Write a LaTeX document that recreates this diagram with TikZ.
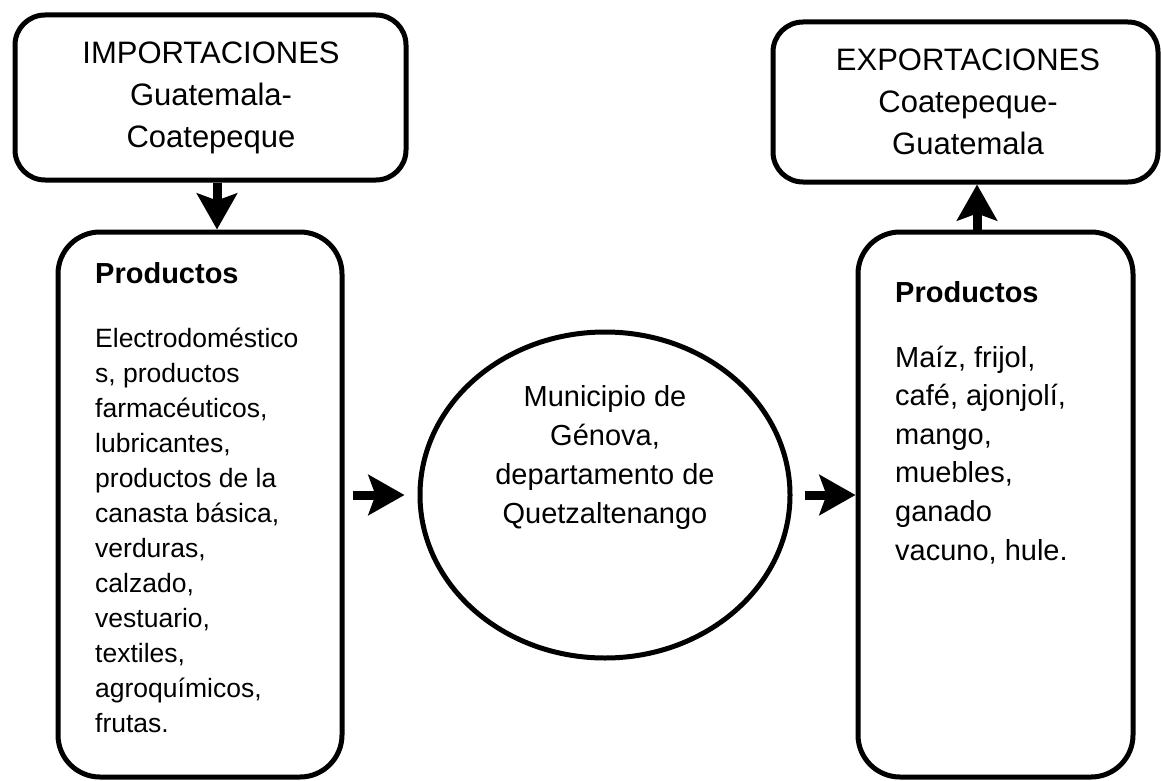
\documentclass[tikz,border=0pt]{standalone}
\usepackage{fontspec}
\setmainfont{Liberation Sans}
\usetikzlibrary{arrows.meta,shapes.geometric}
\begin{document}
\begin{tikzpicture}[x=1pt,y=-1pt,
    caja/.style={draw,line width=5pt,rounded corners=#1,inner sep=0pt},
    flecha/.style={line width=9pt,-{Stealth[length=36pt,width=40pt,inset=7pt]}}]
  \useasboundingbox (0,0) rectangle (1161,781);
  \draw
    (210.5,97.5) node[caja=30pt,minimum width=391pt,minimum height=165pt] (imp){}
    (965.5,102) node[caja=30pt,minimum width=385pt,minimum height=160pt] (exp){}
    (200,504.5) node[caja=42pt,minimum width=284pt,minimum height=545pt] (impprod){}
    (995.5,504.5) node[caja=42pt,minimum width=275pt,minimum height=545pt] (expprod){}
    (605,495) node[draw,ellipse,line width=5pt,inner sep=0pt,minimum width=370pt,minimum height=326pt] (muni){};
  \draw
    (211,98) node[font=\fontsize{31}{42}\selectfont,align=center,inner sep=0pt] (imptxt){IMPORTACIONES\\Guatemala-\\Coatepeque}
    (968,101.5) node[font=\fontsize{31}{42}\selectfont,align=center,inner sep=0pt] (exptxt){EXPORTACIONES\\Coatepeque-\\Guatemala}
    (605,457.5) node[font=\fontsize{29}{38.7}\selectfont,align=center,inner sep=0pt] (munitxt){Municipio de\\Génova,\\departamento de\\Quetzaltenango}
    (95,283) node[anchor=base west,font=\fontsize{29}{35}\selectfont\bfseries,inner sep=0pt] (imptit){Productos}
    (95,327.4) node[anchor=north west,font=\fontsize{26.5}{35}\selectfont,align=left,inner sep=0pt] (implista){Electrodoméstico\\s, productos\\farmacéuticos,\\lubricantes,\\productos de la\\canasta básica,\\verduras,\\calzado,\\vestuario,\\textiles,\\agroquímicos,\\frutas.}
    (895,302) node[anchor=base west,font=\fontsize{29}{35}\selectfont\bfseries,inner sep=0pt] (exptit){Productos}
    (895,345.5) node[anchor=north west,font=\fontsize{29}{38.6}\selectfont,align=left,inner sep=0pt] (explista){Maíz, frijol,\\café, ajonjolí,\\mango,\\muebles,\\ganado\\vacuno, hule.};
  \coordinate (baja) at ([xshift=6.5pt]imp.south);
  \coordinate (sube) at ([xshift=-18.5pt]expprod.north);
  \draw[flecha] (baja) -- (baja |- impprod.north);
  \draw[flecha] (sube) -- (sube |- exp.south);
  \draw[flecha,shorten <=8pt,shorten >=13pt] (impprod.east |- muni.west) -- (muni.west);
  \draw[flecha,shorten <=12pt] (muni.east) -- (expprod.west |- muni.east);
\end{tikzpicture}
\end{document}
